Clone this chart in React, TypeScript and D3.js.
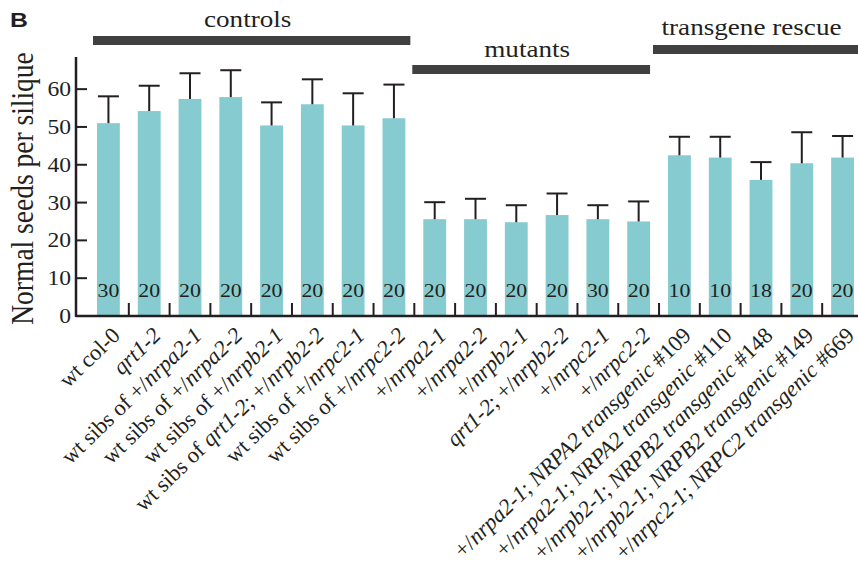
import * as d3 from "d3";

// category labels; text between underscores is set in italics
const categories = [
  "wt col-0",
  "_qrt1-2_",
  "wt sibs of +/_nrpa2-1_",
  "wt sibs of +/_nrpa2-2_",
  "wt sibs of +/_nrpb2-1_",
  "wt sibs of _qrt1-2_; +/_nrpb2-2_",
  "wt sibs of +/_nrpc2-1_",
  "wt sibs of +/_nrpc2-2_",
  "+/_nrpa2-1_",
  "+/_nrpa2-2_",
  "+/_nrpb2-1_",
  "_qrt1-2_; +/_nrpb2-2_",
  "+/_nrpc2-1_",
  "+/_nrpc2-2_",
  "+/_nrpa2-1_; _NRPA2 transgenic_ #109",
  "+/_nrpa2-1_; _NRPA2 transgenic_ #110",
  "+/_nrpb2-1_; _NRPB2 transgenic_ #148",
  "+/_nrpb2-1_; _NRPB2 transgenic_ #149",
  "+/_nrpc2-1_; _NRPC2 transgenic_ #669",
];
const means = [51, 54.2, 57.4, 57.9, 50.4, 56, 50.4, 52.3, 25.6, 25.6, 24.8, 26.7, 25.6, 25.0, 42.5, 41.9, 36.0, 40.4, 41.9];
const errors = [7.1, 6.7, 6.8, 7.1, 6.1, 6.6, 8.5, 8.9, 4.5, 5.4, 4.5, 5.7, 3.7, 5.3, 4.9, 5.5, 4.7, 8.2, 5.7];
const counts = [30, 20, 20, 20, 20, 20, 20, 20, 20, 20, 20, 20, 30, 20, 10, 10, 18, 20, 20];
const yTicks = [0, 10, 20, 30, 40, 50, 60];
const groupNames = ["controls", "mutants", "transgene rescue"];
const groupFirst = [0, 8, 14];
const groupLast = [7, 13, 18];

const W = 858;
const H = 568;
const SERIF = "'Liberation Serif', 'Times New Roman', serif";
const INK = "#231f20";
const BAR = "#86cbcf";
const GROUP = "#404040";
const SX = 1.18; // the figure is slightly stretched horizontally

function parse(label: string) {
  return label.split("_").map((t, i) => ({ t, it: i % 2 === 1 })).filter((s) => s.t);
}

export default function App() {
  const axisX = 76;
  const zeroY = 316;
  const x = d3
    .scaleBand<number>()
    .domain(d3.range(categories.length))
    .range([axisX, 875])
    .paddingInner(0.44)
    .paddingOuter(0.515);
  const y = d3.scaleLinear().domain([0, 68.5]).range([zeroY, 57]);
  const bw = x.bandwidth();
  const step = x.step();
  const gap = (step - bw) / 2;

  const groupSpans: [number, number][] = [
    [x(groupFirst[0])! - 4, x(groupLast[0])! + bw + 5],
    [x(groupFirst[1])! - 11, x(groupLast[1])! + bw],
    [x(groupFirst[2])! - 15, W],
  ];
  const groupBarY = [36, 65, 45];
  const groupTextY = [27, 57, 35];

  return (
    <svg
      width={W}
      height={H}
      style={{ position: "absolute", left: 0, top: 0, background: "#fff" }}
      fontFamily={SERIF}
    >
      {/* panel letter */}
      <g transform={`translate(10,27) scale(${SX},1)`}>
        <text fontFamily="'Liberation Sans', Arial, sans-serif" fontWeight="bold" fontSize={21} fill={INK}>
          B
        </text>
      </g>

      {/* group brackets */}
      {groupNames.map((name, i) => {
        const [a, b] = groupSpans[i];
        return (
          <g key={name}>
            <rect x={a} y={groupBarY[i]} width={b - a} height={9} fill={GROUP} />
            <g transform={`translate(${(a + b) / 2 - 4},${groupTextY[i]}) scale(${SX},1)`}>
              <text textAnchor="middle" fontSize={23} fill={INK}>
                {name}
              </text>
            </g>
          </g>
        );
      })}

      {/* y axis label */}
      <g transform={`translate(33,${(57 + zeroY) / 2 + 2}) rotate(-90) scale(1,${SX})`}>
        <text textAnchor="middle" fontSize={27.5} fill={INK}>
          Normal seeds per silique
        </text>
      </g>

      {/* y ticks */}
      {yTicks.map((t) => (
        <g key={t}>
          <line x1={axisX} x2={axisX + 11} y1={y(t)} y2={y(t)} stroke={INK} strokeWidth={2} />
          <g transform={`translate(${axisX - 5},${y(t) + 7}) scale(${SX},1)`}>
            <text textAnchor="end" fontSize={20} fill={INK}>
              {t}
            </text>
          </g>
        </g>
      ))}

      {/* bars */}
      {means.map((m, i) => {
        const cx = x(i)! + bw / 2;
        return (
          <g key={i}>
            <rect x={x(i)!} y={y(m)} width={bw} height={zeroY - y(m)} fill={BAR} />
            <line x1={cx} x2={cx} y1={y(m)} y2={y(m + errors[i])} stroke={INK} strokeWidth={2} />
            <line x1={cx - 10.5} x2={cx + 10.5} y1={y(m + errors[i])} y2={y(m + errors[i])} stroke={INK} strokeWidth={2} />
            <g transform={`translate(${cx},297) scale(${SX},1)`}>
              <text textAnchor="middle" fontSize={18.5} fill={INK}>
                {counts[i]}
              </text>
            </g>
          </g>
        );
      })}

      {/* between-bar ticks */}
      {d3.range(1, categories.length).map((i) => (
        <line key={i} x1={x(i)! - gap} x2={x(i)! - gap} y1={zeroY} y2={zeroY - 13} stroke={INK} strokeWidth={2} />
      ))}

      {/* axes */}
      <line x1={axisX} x2={axisX} y1={57} y2={zeroY + 1} stroke={INK} strokeWidth={2.5} />
      <line x1={axisX} x2={W} y1={zeroY} y2={zeroY} stroke={INK} strokeWidth={2.5} />

      {/* category labels */}
      {categories.map((c, i) => {
        const cx = x(i)! + bw / 2;
        return (
          <text
            key={i}
            transform={`translate(${cx + 13},${zeroY + 21}) rotate(-44)`}
            textAnchor="end"
            fontSize={22.5}
            fill={INK}
          >
            {parse(c).map((s, k) => (
              <tspan key={k} fontStyle={s.it ? "italic" : "normal"}>
                {s.t}
              </tspan>
            ))}
          </text>
        );
      })}
    </svg>
  );
}
